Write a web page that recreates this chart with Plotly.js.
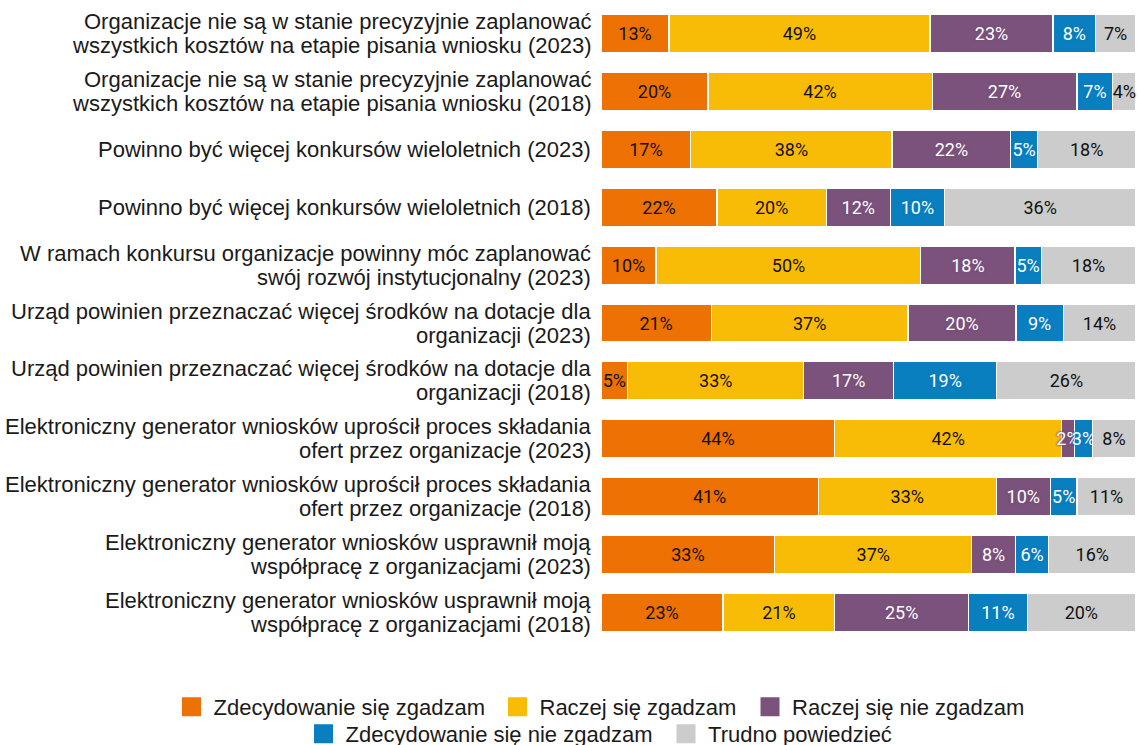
<!DOCTYPE html>
<html><head><meta charset="utf-8">
<script src="https://cdn.plot.ly/plotly-3.0.1.min.js"></script>
<style>html,body{margin:0;padding:0;background:#fff}#chart{width:1138px;height:745px}</style>
</head><body><div id="chart"></div>
<script>
const categories = [
  "Organizacje nie są w stanie precyzyjnie zaplanować<br>wszystkich kosztów na etapie pisania wniosku (2023)",
  "Organizacje nie są w stanie precyzyjnie zaplanować<br>wszystkich kosztów na etapie pisania wniosku (2018)",
  "Powinno być więcej konkursów wieloletnich (2023)",
  "Powinno być więcej konkursów wieloletnich (2018)",
  "W ramach konkursu organizacje powinny móc zaplanować<br>swój rozwój instytucjonalny (2023)",
  "Urząd powinien przeznaczać więcej środków na dotacje dla<br>organizacji (2023)",
  "Urząd powinien przeznaczać więcej środków na dotacje dla<br>organizacji (2018)",
  "Elektroniczny generator wniosków uprościł proces składania<br>ofert przez organizacje (2023)",
  "Elektroniczny generator wniosków uprościł proces składania<br>ofert przez organizacje (2018)",
  "Elektroniczny generator wniosków usprawnił moją<br>współpracę z organizacjami (2023)",
  "Elektroniczny generator wniosków usprawnił moją<br>współpracę z organizacjami (2018)"
];
const seriesNames = ["Zdecydowanie się zgadzam","Raczej się zgadzam","Raczej się nie zgadzam","Zdecydowanie się nie zgadzam","Trudno powiedzieć"];
const zdecydowanieTak = [12.7, 20.0, 16.8, 21.7, 10.3, 20.6, 5.0, 43.7, 40.6, 32.5, 22.8];
const raczejTak      = [48.8, 41.9, 37.6, 20.4, 49.5, 36.8, 32.9, 42.4, 33.3, 36.8, 20.9];
const raczejNie      = [23.0, 27.1, 22.2, 12.0, 17.6, 20.2, 16.8, 2.4, 10.1, 8.2, 25.0];
const zdecydowanieNie= [8.0, 6.7, 5.0, 10.1, 4.9, 8.8, 19.3, 3.4, 5.0, 6.2, 11.0];
const trudno         = [7.4, 4.3, 18.4, 35.8, 17.7, 13.6, 26.0, 8.0, 11.0, 16.3, 20.2];
const seriesValues = [zdecydowanieTak, raczejTak, raczejNie, zdecydowanieNie, trudno];
const colors = ["#EE7203","#F9BC06","#7B527B","#0A7FBF","#CCCCCC"];
const textColors = ["#111","#111","#fff","#fff","#111"];
const legendIds = ["legend","legend2","legend3","legend4","legend5"];

const traces = seriesValues.map((vals, i) => ({
  type: "bar", orientation: "h", name: seriesNames[i],
  x: vals, y: categories,
  marker: {color: colors[i], line: {color: "#fff", width: 1.2}},
  text: vals.map(v => Math.round(v) + "%"),
  textposition: "inside", insidetextanchor: "middle", constraintext: "none", textangle: 0,
  textfont: {family: "Roboto", size: 18, color: textColors[i],
             shadow: `0 0 2px ${colors[i]}, 0 0 2px ${colors[i]}, 0 0 2px ${colors[i]}`},
  hoverinfo: "none", showlegend: false, cliponaxis: false
}));
// legend-only entries (square swatches like the reference)
seriesNames.forEach((nm, i) => {
  traces.push({
    type: "scatter", mode: "markers", name: nm, x: [null], y: [null],
    marker: {symbol: "square", size: 16, color: colors[i], line: {color: colors[i], width: 3}},
    legend: legendIds[i], hoverinfo: "none", showlegend: true
  });
});

const lineGap = 24;
const annotations = [];
categories.forEach(cat => {
  const lines = cat.split("<br>");
  lines.forEach((ln, k) => {
    annotations.push({
      xref: "paper", yref: "y", x: 0, y: cat, xanchor: "right", yanchor: "middle",
      xshift: -8, yshift: ((lines.length - 1) / 2 - k) * lineGap,
      text: ln, showarrow: false,
      font: {family: "Liberation Sans, Arial, sans-serif", size: 22, color: "#1a1a1a"}
    });
  });
});

function legendBox(x, y) {
  return {orientation: "h", x: x, xanchor: "left", y: y, yanchor: "top",
          bgcolor: "rgba(0,0,0,0)", font: {size: 22, color: "#1a1a1a"},
          itemwidth: 34, itemsizing: "trace", tracegroupgap: 0};
}

const layout = {
  width: 1138, height: 745,
  margin: {l: 601, r: 2, t: 5, b: 104, autoexpand: false},
  barmode: "stack", bargap: 0.34,
  paper_bgcolor: "#fff", plot_bgcolor: "#fff",
  font: {family: "Liberation Sans, Arial, sans-serif", size: 22, color: "#1a1a1a"},
  xaxis: {range: [0, 100.02], visible: false, fixedrange: true},
  yaxis: {autorange: "reversed", showgrid: false, zeroline: false, showline: false,
          ticks: "", showticklabels: false},
  annotations: annotations,
  showlegend: true,
  legend:  legendBox(-0.8065, -0.0708),
  legend2: legendBox(-0.1972, -0.0708),
  legend3: legendBox(0.2748, -0.0708),
  legend4: legendBox(-0.5598, -0.1132),
  legend5: legendBox(0.1178, -0.1132)
};
Plotly.newPlot("chart", traces, layout, {displayModeBar: false, staticPlot: true});
</script></body></html>
